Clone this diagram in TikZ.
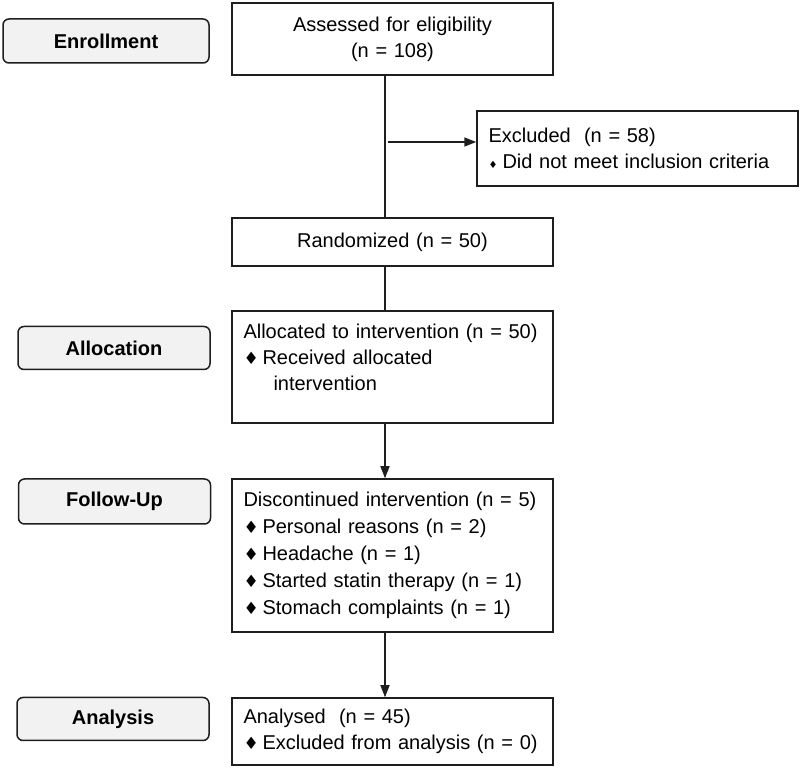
\documentclass[tikz,border=0pt]{standalone}
\usepackage{fontspec}
\setmainfont{Liberation Sans}
\newfontfamily\symfont{DejaVu Sans}
\usepackage{tikz}
\usetikzlibrary{arrows.meta}
\definecolor{ink}{HTML}{1E1E1E}
\definecolor{stagebg}{HTML}{F2F2F2}
\newcommand{\dmd}{\makebox[9.5pt][l]{\symfont\scalebox{0.85}{♦}}}
\newcommand{\dmdsmall}{\makebox[7pt][l]{\symfont\scalebox{0.5}{♦}}}
\tikzset{
  stage/.style={draw=ink, fill=stagebg, rounded corners=3pt, line width=0.75pt,
    font=\fontsize{10pt}{13pt}\selectfont\bfseries, minimum width=96pt, minimum height=21.5pt, inner sep=0pt},
  flow/.style={draw=ink, line width=0.75pt, minimum width=160.5pt, text width=149pt,
    inner xsep=5.75pt, inner ysep=0pt, align=left, font=\fontsize{10pt}{13pt}\selectfont},
  flowc/.style={flow, align=center},
  link/.style={draw=ink, line width=0.75pt},
  arr/.style={link, -{Triangle[length=6pt,width=4.5pt]}},
}

\begin{document}
\begin{tikzpicture}[x=0.5pt,y=-0.5pt]
  \useasboundingbox (0,0) rectangle (800,770);

  % phase labels
  \node[stage, minimum width=103pt, minimum height=22pt] (enrol) at (106,41) {Enrollment};
  \node[stage] (alloc) at (114,348) {Allocation};
  \node[stage, minimum height=22.5pt] (follow) at (114.5,501.5) {Follow-Up};
  \node[stage] (anal) at (113,719) {Analysis};

  % flow boxes
  \node[flowc, minimum height=36pt] (assess) at (392.5,39) {Assessed for eligibility\\(n = 108)};
  \node[flow, minimum height=37.5pt] (excl) at (637.5,148.5)
    {Excluded~ (n = 58)\\\dmdsmall Did not meet inclusion criteria};
  \node[flowc, minimum height=24pt] (rand) at (392.5,242) {Randomized (n = 50)};
  \node[flow, minimum height=56pt] (given) at (392.5,367)
    {Allocated to intervention (n = 50)\\\dmd Received allocated\\\hspace*{15pt}intervention\\[-7pt]\strut};
  \node[flow, minimum height=76.5pt, font=\fontsize{10pt}{13.5pt}\selectfont] (disc) at (392.5,555.5)
    {Discontinued intervention (n = 5)\\\dmd Personal reasons (n = 2)\\\dmd Headache (n = 1)\\
     \dmd Started statin therapy (n = 1)\\\dmd Stomach complaints (n = 1)};
  \node[flow, minimum height=33.5pt] (done) at (392.5,731.5)
    {Analysed~ (n = 45)\\\dmd Excluded from analysis (n = 0)};

  \coordinate (spine) at (385,0);
  \coordinate (branch) at (388,142);

  \draw[link] (assess.south -| spine) -- (rand.north -| spine);
  \draw[arr] (branch) -- (branch -| excl.west); % side exit
  \draw[link] (rand.south -| spine) -- (given.north -| spine);
  \draw[arr] (given.south -| spine) -- (disc.north -| spine);
  \draw[arr] (disc.south -| spine) -- (done.north -| spine);
\end{tikzpicture}
\end{document}
